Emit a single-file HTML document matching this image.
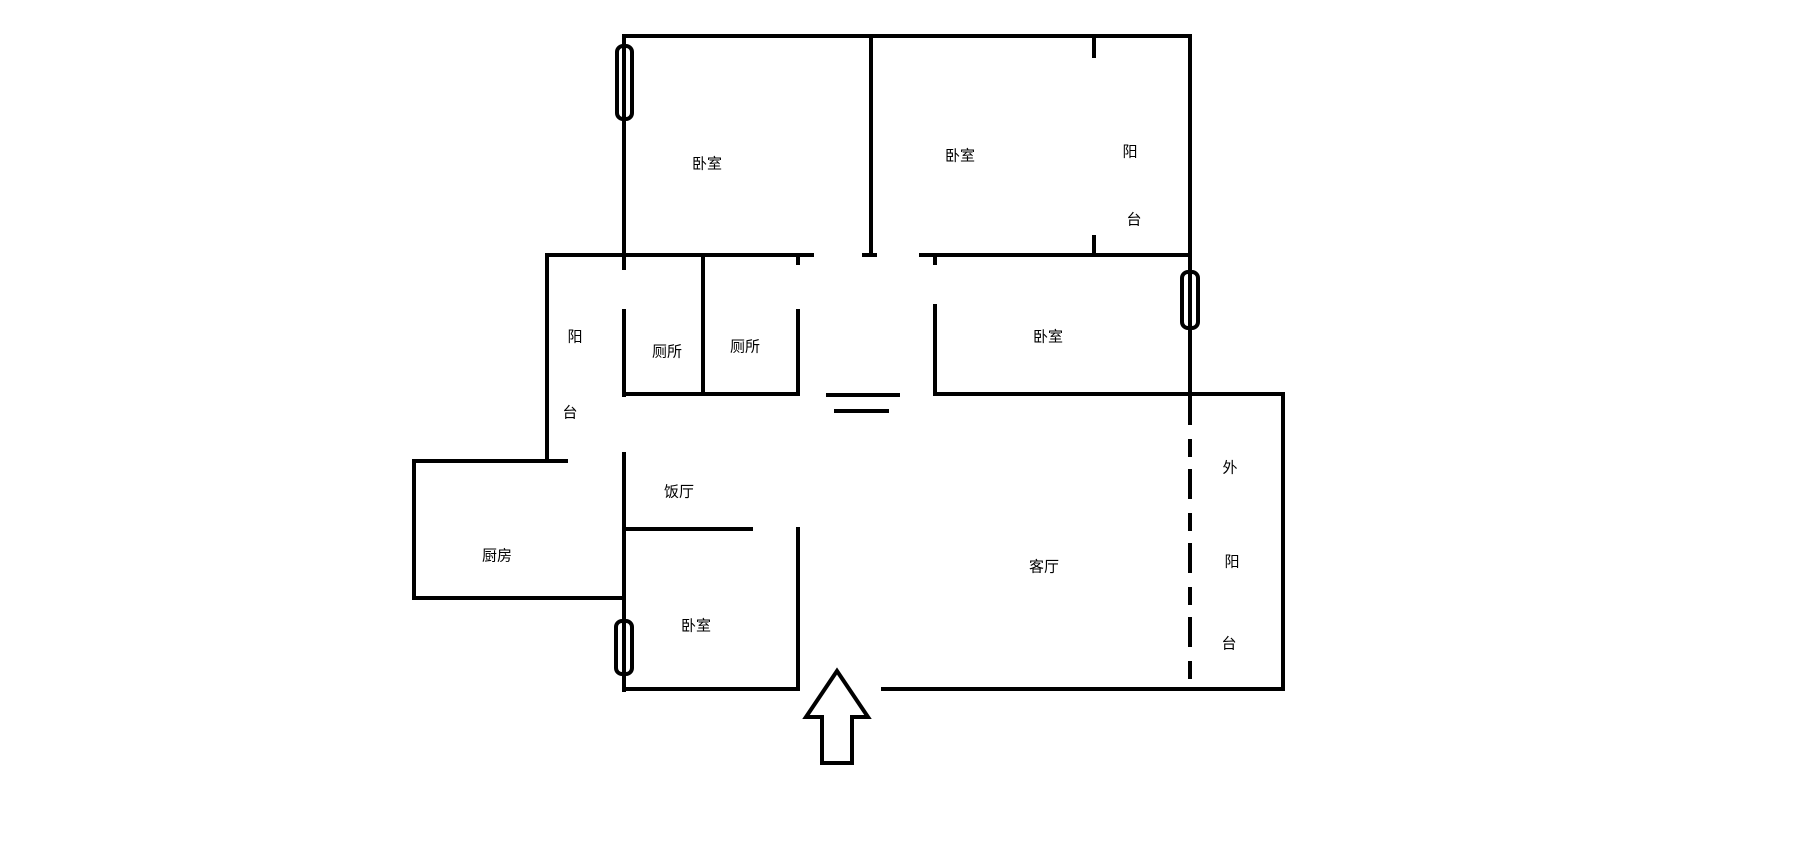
<!DOCTYPE html>
<html><head><meta charset="utf-8"><style>
html,body{margin:0;padding:0;background:#fff;}
svg{display:block}
text{font-family:"Liberation Sans","Noto Sans CJK SC",sans-serif;font-size:15px;fill:#000;text-anchor:middle;dominant-baseline:central}
</style></head><body>
<svg width="1819" height="842" viewBox="0 0 1819 842" xmlns="http://www.w3.org/2000/svg">
<g stroke="#000" stroke-width="4" fill="none" stroke-linecap="square">
<!-- outer top -->
<line x1="624" y1="36" x2="1190" y2="36"/>
<line x1="624" y1="36" x2="624" y2="268"/>
<line x1="624" y1="311" x2="624" y2="395"/>
<line x1="624" y1="454" x2="624" y2="690"/>
<line x1="871" y1="36" x2="871" y2="255"/>
<line x1="1190" y1="36" x2="1190" y2="395"/>
<line x1="1094" y1="36" x2="1094" y2="56"/>
<line x1="1094" y1="237" x2="1094" y2="252"/>
<line x1="547" y1="255" x2="812" y2="255"/>
<line x1="864" y1="255" x2="875" y2="255"/>
<line x1="921" y1="255" x2="1190" y2="255"/>
<line x1="798" y1="258" x2="798" y2="263"/>
<line x1="935" y1="258" x2="935" y2="263"/>
<line x1="547" y1="255" x2="547" y2="461"/>
<line x1="414" y1="461" x2="566" y2="461"/>
<line x1="414" y1="461" x2="414" y2="598"/>
<line x1="414" y1="598" x2="624" y2="598"/>
<line x1="703" y1="258" x2="703" y2="394"/>
<line x1="798" y1="311" x2="798" y2="394"/>
<line x1="624" y1="394" x2="798" y2="394"/>
<line x1="828" y1="395" x2="898" y2="395"/>
<line x1="836" y1="411" x2="887" y2="411"/>
<line x1="935" y1="306" x2="935" y2="394"/>
<line x1="935" y1="394" x2="1283" y2="394"/>
<line x1="1283" y1="394" x2="1283" y2="689"/>
<line x1="883" y1="689" x2="1283" y2="689"/>
<line x1="624" y1="529" x2="751" y2="529"/>
<line x1="798" y1="529" x2="798" y2="689"/>
<line x1="624" y1="689" x2="798" y2="689"/>
<line x1="1190" y1="395" x2="1190" y2="689" stroke-dasharray="30,14,18,12" stroke-linecap="butt"/>
<!-- windows -->
<rect x="617" y="46" width="15" height="73" rx="6" fill="#fff"/>
<line x1="624" y1="48" x2="624" y2="117"/>
<rect x="616" y="621" width="16" height="53" rx="6" fill="#fff"/>
<line x1="624" y1="623" x2="624" y2="672"/>
<rect x="1182" y="272" width="16" height="56" rx="6" fill="#fff"/>
<line x1="1190" y1="274" x2="1190" y2="326"/>
<!-- arrow -->
<polygon points="837,671 868,717 852,717 852,763 822,763 822,717 806,717" stroke-linejoin="miter"/>
</g>
<text x="707" y="164">卧室</text>
<text x="960" y="156">卧室</text>
<text x="1130" y="152">阳</text>
<text x="1134" y="220">台</text>
<text x="575" y="337">阳</text>
<text x="570" y="413">台</text>
<text x="667" y="352">厕所</text>
<text x="745" y="347">厕所</text>
<text x="1048" y="337">卧室</text>
<text x="679" y="492">饭厅</text>
<text x="497" y="556">厨房</text>
<text x="696" y="626">卧室</text>
<text x="1044" y="567">客厅</text>
<text x="1230" y="468">外</text>
<text x="1232" y="562">阳</text>
<text x="1229" y="644">台</text>
</svg>
</body></html>
